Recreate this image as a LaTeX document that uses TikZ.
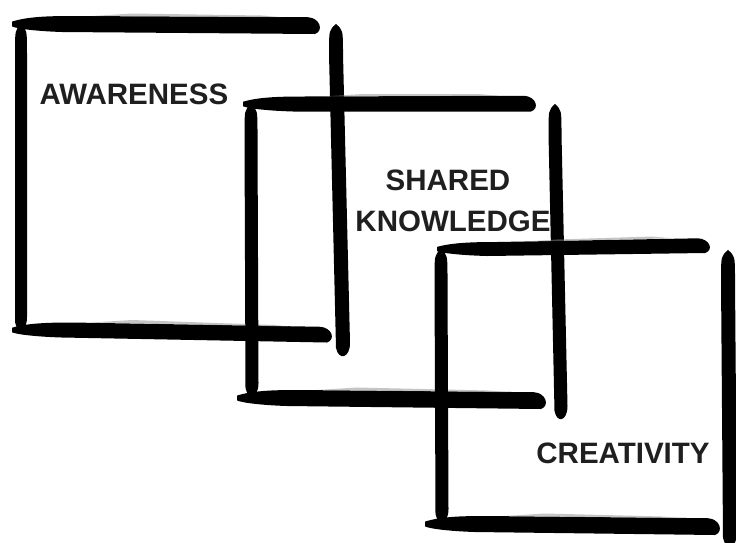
\documentclass[tikz,border=0pt]{standalone}
\usepackage{fontspec}
\setmainfont{Liberation Sans}
\begin{document}
\begin{tikzpicture}[x=1pt,y=-1pt,
  lbl/.style={font=\fontsize{29.5}{31}\selectfont\bfseries, text=black!88, inner sep=0pt, anchor=base}]
\useasboundingbox (0,0) rectangle (736,542);
\fill[white] (0,0) rectangle (736,542);
\newcommand{\hbrush}[5]{%
 \fill[black] ({#1},{#2-#5*0.15}) .. controls ({#1+15},{#2-#5*0.45}) and ({#1+35},{#2-#5*0.5}) .. ({#1+60},{#2-#5*0.5})
   -- ({#3-14},{#4-#5*0.55}) .. controls ({#3-2},{#4-#5*0.5}) and ({#3+2},{#4+#5*0.3}) .. ({#3-7},{#4+#5*0.5})
   -- ({#1+50},{#2+#5*0.5}) .. controls ({#1+25},{#2+#5*0.45}) and ({#1+5},{#2+#5*0.3}) .. ({#1},{#2+#5*0.15}) -- cycle;
 \fill[black!45, opacity=.5] ({#1+80},{#2-#5*0.5}) -- ({#3-40},{#4-#5*0.55}) -- ({#3-60},{#4-#5*0.5-2.5}) -- ({#1+120},{#2-#5*0.5-2.5}) -- cycle;}
\newcommand{\vbrush}[5]{%
 \fill[black] ({#1},{#2}) .. controls ({#1+#5*0.5},{#2+6}) .. ({#1+#5*0.5},{#2+30})
   -- ({#3+#5*0.5},{#4-15}) .. controls ({#3+#5*0.5},{#4}) and ({#3-#5*0.3},{#4+3}) .. ({#3-#5*0.5},{#4-10})
   -- ({#1-#5*0.5},{#2+30}) .. controls ({#1-#5*0.5},{#2+6}) .. cycle;}
% square 1
\hbrush{12}{24}{322}{26}{16}
\vbrush{21}{24}{21}{332}{12}
\vbrush{336}{24}{343}{358}{14}
\hbrush{12}{330}{334}{335}{15}
% square 2
\hbrush{243}{104}{538}{104}{15}
\vbrush{251}{104}{252}{398}{13}
\vbrush{555}{104}{561}{421}{13}
\hbrush{237}{398}{548}{401}{16}
% square 3
\hbrush{437}{249}{712}{246}{14}
\vbrush{441}{249}{442}{524}{13}
\vbrush{728}{250}{730}{548}{14}
\hbrush{425}{524}{722}{527}{16}
% labels
\node[lbl] (aw) at (134,104) {AWARENESS};
\node[lbl] (sh) at (448,190) {SHARED};
\node[lbl] (kn) at (453,231) {KNOWLEDGE};
\node[lbl] (cr) at (623,463) {CREATIVITY};
\end{tikzpicture}
\end{document}
